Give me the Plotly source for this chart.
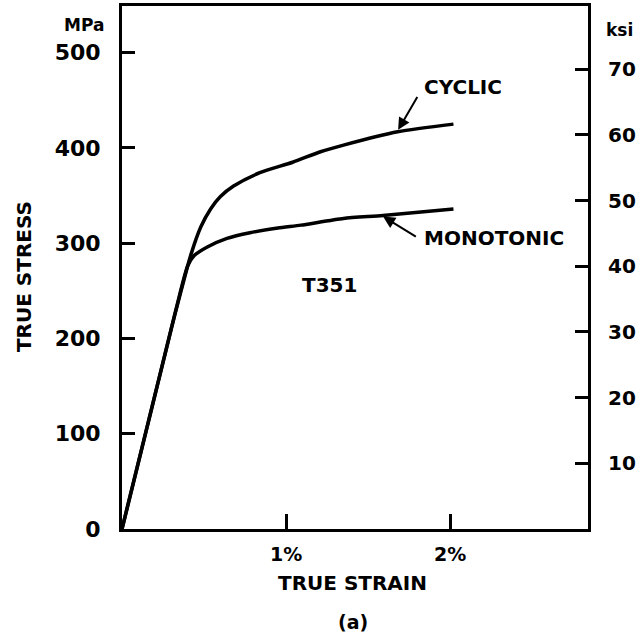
import plotly.graph_objects as go

# Data (strain in %, stress in MPa)
cyclic_strain = [0, 0.30, 0.36, 0.42, 0.48, 0.54, 0.60, 0.68, 0.84, 1.04, 1.21, 1.35, 1.68, 2.02]
cyclic_stress = [0, 210, 250, 288, 317, 336, 349, 360, 374, 385, 396, 403, 417, 425]
mono_strain = [0, 0.30, 0.35, 0.40, 0.44, 0.52, 0.64, 0.78, 0.95, 1.09, 1.35, 1.59, 2.02]
mono_stress = [0, 210, 245, 276, 287, 296, 305, 311, 316, 319, 326, 329, 336]

mpa_ticks = [0, 100, 200, 300, 400, 500]
ksi_ticks = [10, 20, 30, 40, 50, 60, 70]
strain_ticks = [1, 2]
strain_labels = ["1%", "2%"]

KSI_TO_MPA = 6.895
Y_MAX = 549
X_MAX = 2.84

FONT = dict(family="DejaVu Sans", color="black", weight="bold")

fig = go.Figure()
fig.add_trace(go.Scatter(x=cyclic_strain, y=cyclic_stress, mode="lines",
                         line=dict(color="black", width=3.5, shape="spline", smoothing=0.7),
                         showlegend=False, name="CYCLIC"))
fig.add_trace(go.Scatter(x=mono_strain, y=mono_stress, mode="lines",
                         line=dict(color="black", width=3.5, shape="spline", smoothing=0.6),
                         showlegend=False, name="MONOTONIC"))
# invisible trace to activate second y-axis
fig.add_trace(go.Scatter(x=[0], y=[0], yaxis="y2", mode="markers",
                         marker=dict(opacity=0), showlegend=False, hoverinfo="skip"))

fig.update_layout(
    width=639, height=636,
    margin=dict(l=122, r=51, t=6, b=107),
    paper_bgcolor="white", plot_bgcolor="white",
    font=FONT,
    xaxis=dict(range=[0, X_MAX], tickvals=strain_ticks, ticktext=strain_labels,
               ticks="inside", ticklen=15, tickwidth=2.5, tickcolor="black",
               showline=True, linewidth=3, linecolor="black", mirror=True,
               showgrid=False, zeroline=False, automargin=False,
               tickfont=dict(size=19, **FONT), ticklabelstandoff=6),
    yaxis=dict(range=[0, Y_MAX], tickvals=mpa_ticks,
               ticks="inside", ticklen=13, tickwidth=2.5, tickcolor="black",
               showline=True, linewidth=3, linecolor="black", mirror=True,
               showgrid=False, zeroline=False, automargin=False,
               tickfont=dict(size=22, **FONT), ticklabelstandoff=14),
    yaxis2=dict(range=[0, Y_MAX / KSI_TO_MPA], tickvals=ksi_ticks, overlaying="y", side="right",
                ticks="inside", ticklen=13, tickwidth=2.5, tickcolor="black",
                showline=True, linewidth=3, linecolor="black",
                showgrid=False, zeroline=False, automargin=False,
                tickfont=dict(size=20, **FONT), ticklabelstandoff=13),
)

annots = [
    dict(text="MPa", xref="paper", yref="paper", x=-0.0815, y=0.964, size=17),
    dict(text="ksi", xref="paper", yref="paper", x=1.068, y=0.955, size=17),
    dict(text="TRUE STRESS", xref="paper", yref="paper", x=-0.21, y=0.482, size=20, angle=-90),
    dict(text="TRUE STRAIN", xref="paper", yref="paper", x=0.494, y=-0.103, size=20),
    dict(text="(a)", xref="paper", yref="paper", x=0.496, y=-0.178, size=19),
    dict(text="T351", xref="x", yref="y", x=1.262, y=256, size=20),
]
for a in annots:
    fig.add_annotation(text=a["text"], xref=a["xref"], yref=a["yref"], x=a["x"], y=a["y"],
                       xanchor="center", yanchor="middle", showarrow=False,
                       textangle=a.get("angle", 0), font=dict(size=a["size"], **FONT))

fig.add_annotation(text="CYCLIC", x=1.829, y=464, xref="x", yref="y", xanchor="left",
                   yanchor="middle", showarrow=False, font=dict(size=20, **FONT))
fig.add_annotation(text="MONOTONIC", x=1.829, y=305, xref="x", yref="y", xanchor="left",
                   yanchor="middle", showarrow=False, font=dict(size=20, **FONT))
# arrows
fig.add_annotation(text="", x=1.683, y=419, ax=1.805, ay=455, xref="x", yref="y",
                   axref="x", ayref="y", showarrow=True, arrowhead=2, arrowsize=1.2,
                   arrowwidth=2, arrowcolor="black")
fig.add_annotation(text="", x=1.591, y=328, ax=1.80, ay=306, xref="x", yref="y",
                   axref="x", ayref="y", showarrow=True, arrowhead=2, arrowsize=1.2,
                   arrowwidth=2, arrowcolor="black")

fig.write_html("out.html", config={"displayModeBar": False},
               post_script="document.body.style.margin='0';document.body.style.overflow='hidden';")
